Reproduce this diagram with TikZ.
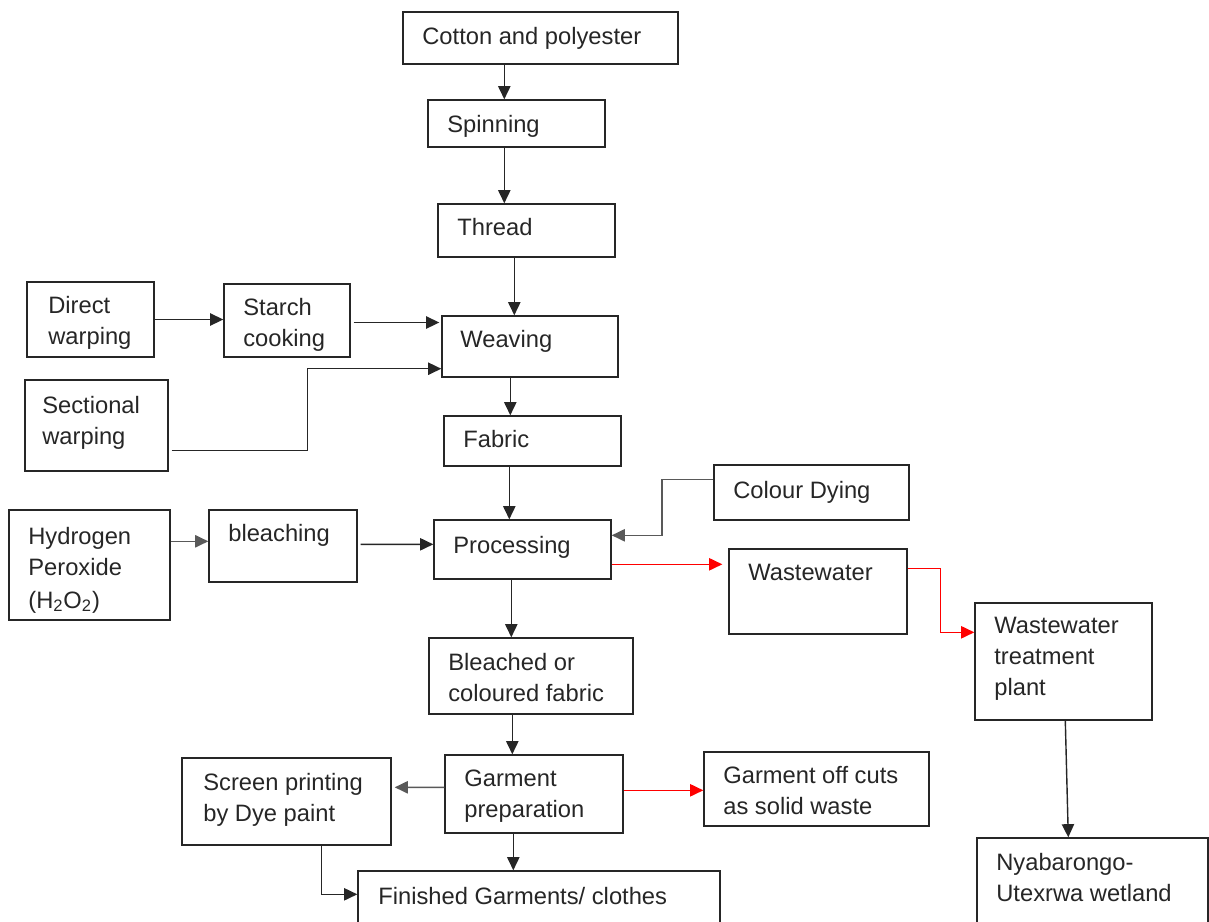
\documentclass[tikz,border=0pt]{standalone}
\usepackage{fontspec}
\setmainfont{Liberation Sans}
\usetikzlibrary{arrows.meta,fit,calc}
\begin{document}
\begin{tikzpicture}[x=0.02cm,y=-0.02cm,
  box/.style={draw=black!85, line width=0.8pt, inner sep=0pt},
  txt/.style={anchor=north west, inner sep=0pt, align=left, font=\fontsize{13.5}{17.6}\selectfont, text=black!85},
  tip/.style={-{Triangle[length=7.5pt,width=7pt]}},
  arr/.style={draw=black!85, line width=0.8pt, tip},
  garr/.style={draw=black!65, line width=0.9pt, tip},
  rarr/.style={draw=red, line width=0.8pt, tip}]
\useasboundingbox (0,0) rectangle (1209,921);
\clip (0,0) rectangle (1209,921);

% boxes
\node[box, fit={(403,12) (678,64)}] (cot) {};
\node[txt] (cott) at (422,27) {Cotton and polyester};
\node[box, fit={(428,100) (605,147)}] (spin) {};
\node[txt] (spint) at (447,115) {Spinning};
\node[box, fit={(438,204) (615,257)}] (thr) {};
\node[txt] (thrt) at (457,218) {Thread};
\node[box, fit={(27,282) (154,357)}] (dir) {};
\node[txt] (dirt) at (48,296) {Direct\\warping};
\node[box, fit={(224,284) (350,357)}] (sta) {};
\node[txt] (stat) at (243,298) {Starch\\cooking};
\node[box, fit={(442,316) (618,377)}] (wea) {};
\node[txt] (weat) at (460,330) {Weaving};
\node[box, fit={(25,380) (168,471)}] (sec) {};
\node[txt] (sect) at (42,396) {Sectional\\warping};
\node[box, fit={(444,416) (621,466)}] (fab) {};
\node[txt] (fabt) at (463,430) {Fabric};
\node[box, fit={(714,465) (909,520)}] (col) {};
\node[txt] (colt) at (733,481) {Colour Dying};
\node[box, fit={(9,510) (170,620)}] (hyd) {};
\node[txt] (hydt) at (28,527) {Hydrogen\\Peroxide\\[1pt](H\textsubscript{2}O\textsubscript{2})};
\node[box, fit={(209,510) (357,582)}] (ble) {};
\node[txt] (blet) at (228,524) {bleaching};
\node[box, fit={(434,520) (611,579)}] (pro) {};
\node[txt] (prot) at (453,536) {Processing};
\node[box, fit={(729,549) (907,634)}] (ww) {};
\node[txt] (wwt) at (748,564) {Wastewater};
\node[box, fit={(975,603) (1152,720)}] (wwtp) {};
\node[txt] (wwtpt) at (994,617) {Wastewater\\treatment\\plant};
\node[box, fit={(429,638) (633,714)}] (bcf) {};
\node[txt] (bcft) at (448,653) {Bleached or\\coloured fabric};
\node[box, fit={(182,758) (391,845)}] (scr) {};
\node[txt] (scrt) at (203,773) {Screen printing\\by Dye paint};
\node[box, fit={(445,755) (623,833)}] (gar) {};
\node[txt] (gart) at (464,770) {Garment\\preparation};
\node[box, fit={(704,752) (929,826)}] (off) {};
\node[txt] (offt) at (723,766) {Garment off cuts\\as solid waste};
\node[box, fit={(358,871) (720,940)}] (fin) {};
\node[txt] (fint) at (378,887) {Finished Garments/ clothes};
\node[box, fit={(977,838) (1208,940)}] (nya) {};
\node[txt] (nyat) at (996,853) {Nyabarongo-\\Utexrwa wetland};

% connectors
\draw[arr] ($(cot.south west)+(102,0)$) -- ($(spin.north west)+(77,0)$);
\draw[arr] ($(spin.south west)+(77,0)$) -- ($(thr.north west)+(67,0)$);
\draw[arr] ($(thr.south west)+(77,0)$) -- ($(wea.north west)+(73,0)$);
\draw[arr] (dir.east) -- (dir.east -| sta.west);
\draw[arr] ($(sta.east)+(3,2)$) -- ($(sta.east -| wea.west)+(-2,2)$);
\draw[arr] ($(sec.south east)+(3,-21)$) -| ($(wea.south west)+(-134,-9)$) -- ($(wea.south west)+(0,-9)$);
\draw[arr] ($(wea.south west)+(69,0)$) -- ($(fab.north west)+(67,0)$);
\draw[arr] ($(fab.south west)+(66,0)$) -- ($(pro.north west)+(76,0)$);
\draw[garr] ($(col.north west)+(0,15)$) -| ($(pro.north east)+(50,16)$) -- ($(pro.north east)+(0,16)$);
\draw[garr] ($(hyd.north east)+(0,32)$) -- ($(ble.north west)+(0,32)$);
\draw[arr] ($(ble.north east)+(3,35)$) -- ($(pro.north west)+(0,25)$);
\draw[rarr] ($(pro.north east)+(0,45)$) -- ($(ww.north west)+(-6,16)$);
\draw[rarr] ($(ww.north east)+(0,20)$) -| ($(wwtp.north west)+(-34,30)$) -- ($(wwtp.north west)+(0,30)$);
\draw[arr] ($(pro.south west)+(78,0)$) -- ($(bcf.north west)+(83,0)$);
\draw[arr] ($(bcf.south west)+(84,0)$) -- ($(gar.north west)+(68,0)$);
\draw[garr] ($(gar.north west)+(0,33)$) -- ($(scr.north east)+(3,30)$);
\draw[rarr] ($(gar.north east)+(0,36)$) -- ($(off.north west)+(0,39)$);
\draw[arr] ($(gar.south west)+(69,0)$) -- ($(fin.north west)+(156,0)$);
\draw[arr] ($(scr.south west)+(140,0)$) |- ($(fin.north west)+(0,24)$);
\draw[arr] ($(wwtp.south west)+(91,0)$) -- ($(nya.north west)+(92,0)$);
\end{tikzpicture}
\end{document}
